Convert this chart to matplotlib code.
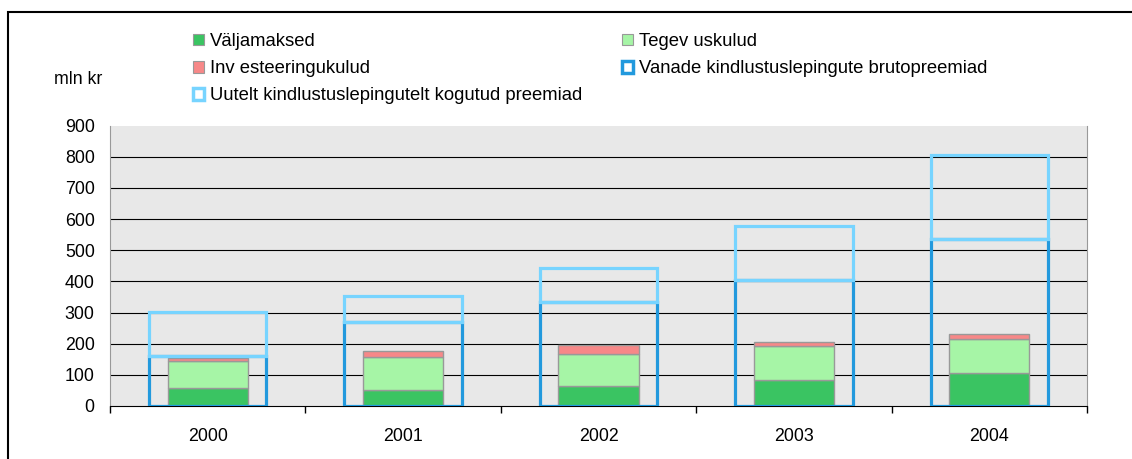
import numpy as np
import matplotlib.pyplot as plt
from matplotlib.patches import Rectangle

years = ['2000', '2001', '2002', '2003', '2004']
valjamaksed = [57, 50, 63, 84, 107]
tegevuskulud = [87, 108, 103, 107, 109]
investeeringukulud = [10, 20, 30, 13, 14]
vanade_preemiad = [160, 270, 334, 404, 535]
uutelt_preemiad = [142, 82, 108, 174, 269]
y_ticks = [0, 100, 200, 300, 400, 500, 600, 700, 800, 900]

labels = ['Väljamaksed', 'Tegev uskulud', 'Inv esteeringukulud',
          'Vanade kindlustuslepingute brutopreemiad',
          'Uutelt kindlustuslepingutelt kogutud preemiad']

c_green = '#3ac462'
c_lgreen = '#a6f5a6'
c_pink = '#f78888'
c_blue = '#2299dd'
c_lblue = '#77d4ff'

plt.rcParams['font.family'] = ['Liberation Sans', 'DejaVu Sans']
plt.rcParams['font.size'] = 12.8

W, H = 1132, 459
fig = plt.figure(figsize=(W / 100, H / 100), dpi=100)
ax = fig.add_axes([110 / W, 1 - 406 / H, (1087 - 110) / W, (406 - 125.5) / H])
ax.set_facecolor('#e8e8e8')

x = np.arange(len(years))
for yv in y_ticks[1:-1]:
    ax.axhline(yv, color='black', lw=0.8, zorder=1)

v = np.array(valjamaksed)
t = np.array(tegevuskulud)
i = np.array(investeeringukulud)
b = np.array(vanade_preemiad)
u = np.array(uutelt_preemiad)

ax.bar(x, b, width=0.6, facecolor='none', edgecolor=c_blue, lw=2.3, zorder=3)
ax.bar(x, u, bottom=b, width=0.6, facecolor='none', edgecolor=c_lblue, lw=2.3, zorder=4)
ax.bar(x, v, width=0.41, color=c_green, edgecolor='#999999', lw=1, zorder=2)
ax.bar(x, t, bottom=v, width=0.41, color=c_lgreen, edgecolor='#999999', lw=1, zorder=2)
ax.bar(x, i, bottom=v + t, width=0.41, color=c_pink, edgecolor='#999999', lw=1, zorder=2)

ax.set_xlim(-0.5, len(years) - 0.5)
ax.set_ylim(0, 900)
ax.set_yticks(y_ticks)
ax.tick_params(axis='y', length=0, pad=11)
ax.set_xticks(np.arange(len(years) + 1) - 0.5)
ax.set_xticklabels([])
ax.set_xticks(x, minor=True)
ax.set_xticklabels(years, minor=True)
ax.tick_params(axis='x', which='major', length=5, width=1, direction='out')
ax.tick_params(axis='x', which='minor', length=0, pad=16)

ax.spines['top'].set_visible(False)
ax.spines['left'].set_color('#999999')
ax.spines['right'].set_color('#999999')
ax.spines['bottom'].set_color('black')

fig.text(78 / W, 1 - 80 / H, 'mln kr', ha='center', va='center')

h_v = Rectangle((0, 0), 1, 1, facecolor=c_green, edgecolor='#999999', lw=0.8)
h_t = Rectangle((0, 0), 1, 1, facecolor=c_lgreen, edgecolor='#999999', lw=0.8)
h_i = Rectangle((0, 0), 1, 1, facecolor=c_pink, edgecolor='#999999', lw=0.8)
h_b = Rectangle((0, 0), 1, 1, facecolor='white', edgecolor=c_blue, lw=2.5)
h_u = Rectangle((0, 0), 1, 1, facecolor='white', edgecolor=c_lblue, lw=2.5)

leg_kw = dict(loc='upper left', frameon=False, borderpad=0, borderaxespad=0, fontsize=13.3,
              handlelength=0.6, handleheight=0.6, handletextpad=0.3, labelspacing=0.55)
fig.legend([h_v, h_i, h_u], [labels[0], labels[2], labels[4]],
           bbox_to_anchor=(193 / W, 1 - 33 / H), **leg_kw)
fig.legend([h_t, h_b], [labels[1], labels[3]],
           bbox_to_anchor=(622 / W, 1 - 33 / H), **leg_kw)

fig.patches.append(Rectangle((8 / W, -0.1), 1.2, 1.1 - 12.5 / H, fill=False,
                             edgecolor='black', lw=1.5, transform=fig.transFigure))

fig.savefig('out.png', dpi=100)
